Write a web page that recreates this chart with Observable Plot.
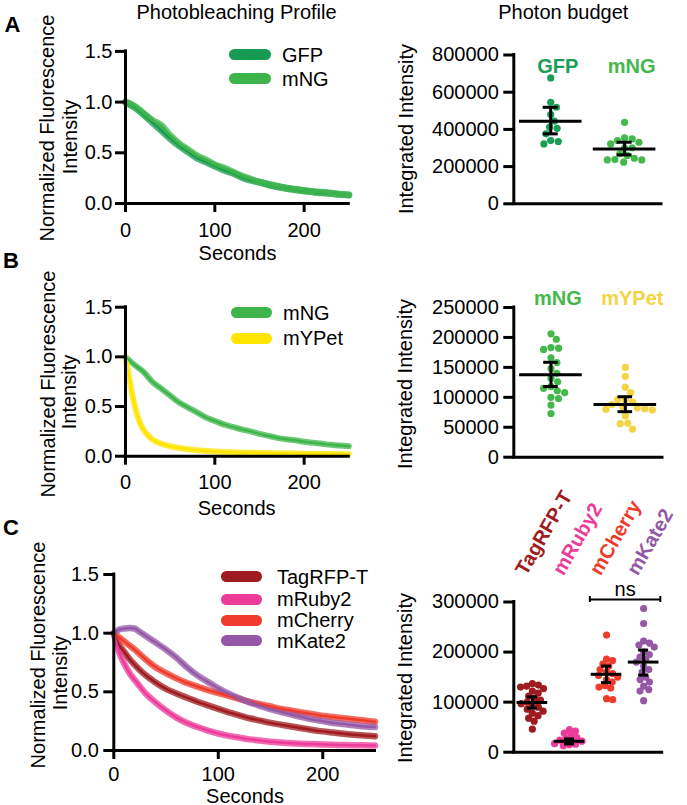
<!DOCTYPE html>
<html><head><meta charset="utf-8">
<script src="https://cdn.jsdelivr.net/npm/d3@7"></script>
<script src="https://cdn.jsdelivr.net/npm/@observablehq/plot@0.6"></script>
<style>
body{margin:0;background:#fff;}
#fig{position:relative;width:687px;height:805px;overflow:hidden;background:#fff;font-family:'Liberation Sans',Arial,Helvetica,sans-serif;color:#000;}
</style></head><body><div id="fig"></div>
<script>
// ---------------- data ----------------
const timeAB = [0,10,20,30,40,50,60,70,80,90,100,110,120,130,140,150,160,170,180,190,200,210,220,230,240,250];
const gfpCurveA = [1.00,0.95,0.88,0.80,0.72,0.64,0.57,0.51,0.45,0.41,0.37,0.33,0.30,0.26,0.23,0.21,0.185,0.165,0.15,0.135,0.125,0.115,0.105,0.10,0.09,0.085];
const mngCurveA = [1.00,0.96,0.89,0.82,0.77,0.67,0.59,0.53,0.47,0.43,0.38,0.35,0.31,0.27,0.24,0.21,0.19,0.17,0.15,0.14,0.125,0.115,0.11,0.10,0.09,0.085];
const mngCurveB = [1.00,0.92,0.85,0.75,0.68,0.61,0.54,0.49,0.44,0.39,0.355,0.32,0.295,0.27,0.25,0.225,0.205,0.185,0.17,0.16,0.145,0.135,0.125,0.115,0.108,0.10];
const timeYPet = [0,2,4,6,8,10,12,14,16,18,20,25,30,35,40,50,60,70,80,100,120,150,200,250];
const ypetCurveB = [1.0,0.9,0.8,0.7,0.6,0.52,0.45,0.39,0.34,0.30,0.27,0.21,0.17,0.145,0.125,0.10,0.082,0.07,0.06,0.048,0.04,0.033,0.025,0.02];
const timeC = [0,5,10,15,20,25,30,40,50,60,70,80,90,100,110,120,130,140,150,160,170,180,190,200,210,220,230,240,250];
const tagCurveC = [1.0,0.9,0.84,0.78,0.73,0.685,0.645,0.58,0.525,0.485,0.45,0.415,0.385,0.355,0.325,0.3,0.275,0.255,0.235,0.22,0.205,0.19,0.175,0.163,0.153,0.143,0.135,0.128,0.122];
const rubyCurveC = [1.0,0.84,0.74,0.66,0.60,0.545,0.49,0.41,0.34,0.28,0.235,0.2,0.17,0.145,0.125,0.11,0.095,0.085,0.075,0.068,0.062,0.058,0.055,0.052,0.049,0.047,0.045,0.044,0.043];
const cherryCurveC = [1.0,0.965,0.93,0.895,0.86,0.82,0.78,0.71,0.66,0.615,0.575,0.545,0.515,0.49,0.465,0.44,0.415,0.395,0.375,0.355,0.34,0.325,0.31,0.295,0.285,0.275,0.265,0.255,0.245];
const kateCurveC = [1.0,1.03,1.04,1.045,1.04,1.01,0.98,0.92,0.86,0.79,0.71,0.64,0.585,0.53,0.485,0.445,0.41,0.38,0.352,0.328,0.305,0.285,0.265,0.25,0.235,0.225,0.215,0.205,0.2];

const groupsA = ["GFP","mNG"];
const gfpDotsA = [677000,546000,519000,480000,444000,412000,406000,376000,340000,335000,322000];
const mngDotsA = [438000,354000,349000,340000,331000,322000,301000,301000,269000,260000,245000,238000,236000,236000,224000];
const meanA = [444000,295000], loA = [376000,263000], hiA = [519000,331000];

const groupsB = ["mNG","mYPet"];
const mngDotsB = [206000,197000,183000,182000,180000,166000,158000,148000,140000,132000,126000,118000,115000,111000,108000,100000,98000,87000,73000];
const ypetDotsB = [150000,135000,117000,108000,96000,96000,92000,88000,84000,82000,81000,80000,79000,69000,57000,56000,47000];
const meanB = [137700,88000], loB = [118000,76000], hiB = [158500,101000];

const groupsC = ["TagRFP-T","mRuby2","mCherry","mKate2"];
const tagDotsC = [137000,134000,132000,130000,127000,122000,118000,112000,108000,104000,100000,97000,93000,90000,86000,82000,78000,73000,68000,62000,46000];
const rubyDotsC = [45000,42000,38000,33000,29000,26000,24000,22000,21000,20000,19000,18000,17000,16000,15000,13000];
const cherryDotsC = [234000,186000,183000,176000,172000,165000,160000,157000,153000,150000,145000,140000,133000,130000,128000,107000,105000];
const kateDotsC = [287000,257000,222000,218000,214000,210000,200000,195000,190000,185000,180000,172000,165000,160000,150000,145000,140000,132000,125000,122000,103000];
const meanC = [99300,21800,155600,180000], loC = [88000,16500,139000,154000], hiC = [110600,26500,172000,204000];
const bracketC = {from: "mCherry", to: "mKate2", value: 305000, label: "ns"};

const ticksLine = [0,0.5,1.0,1.5];
const ticksSec = [0,100,200];
const ticksA = [0,200000,400000,600000,800000];
const ticksB = [0,50000,100000,150000,200000,250000];
const ticksC = [0,100000,200000,300000];

// ---------------- styles ----------------
const FONT = "'Liberation Sans', Arial, Helvetica, sans-serif";
const LINE_COL = {"GFP":"#179a52","mNG":"#3db54a","mYPet":"#ffe400","TagRFP-T":"#9e1b20","mRuby2":"#ec3c9a","mCherry":"#ef3b2c","mKate2":"#9558a7"};
const DOT_COL = {"GFP":"#1a9e55","mNG":"#45b84c","mYPet":"#f4d344","TagRFP-T":"#9e1b20","mRuby2":"#ec3c9a","mCherry":"#ef3b2c","mKate2":"#9558a7"};
const STYLE = {background:"transparent", overflow:"visible", fontFamily: FONT, fontSize:"20px", color:"#000"};

const fig = document.getElementById("fig");
function place(node, left, top) {
  const w = document.createElement("div");
  w.style.cssText = `position:absolute;left:${left}px;top:${top}px;`;
  w.appendChild(node); fig.appendChild(w);
}
function text(str, x, y, o = {}) {
  const d = document.createElement("div");
  d.textContent = str;
  const tx = o.align === "start" ? "0" : "-50%";
  d.style.cssText = `position:absolute;left:${x}px;top:${y}px;white-space:nowrap;line-height:1;font-size:${o.size ?? 20}px;font-weight:${o.weight ?? 400};color:${o.color ?? "#000"};transform:translate(${tx},-50%)${o.rot ? ` rotate(${o.rot}deg)` : ""};`;
  fig.appendChild(d);
}
function legend(items, x1, x2, tx, ys) {
  items.forEach((n, i) => {
    const s = document.createElement("div");
    s.style.cssText = `position:absolute;left:${x1}px;top:${ys[i]-5.5}px;width:${x2-x1}px;height:11px;border-radius:5.5px;background:${LINE_COL[n]};`;
    fig.appendChild(s);
    text(n, tx, ys[i], {align:"start"});
  });
}

function linePlot(cfg) {
  const rows = [];
  cfg.series.forEach(s => s.t.forEach((t, k) => rows.push({name: s.name, t, v: s.v[k]})));
  const names = cfg.series.map(s => s.name);
  return Plot.plot({
    width: cfg.width, height: cfg.height,
    marginLeft: cfg.ml, marginRight: cfg.mr, marginTop: cfg.mt, marginBottom: cfg.mb,
    style: STYLE,
    x: {domain: [0, 250]},
    y: {domain: [0, 1.5]},
    color: {domain: names, range: names.map(n => LINE_COL[n])},
    marks: [
      Plot.line(rows, {x: "t", y: "v", z: "name", stroke: "name", strokeWidth: cfg.sw, strokeOpacity: 0.75, strokeLinejoin: "round", curve: "monotone-x"}),
      Plot.line(rows, {x: "t", y: "v", z: "name", stroke: "name", strokeWidth: 2.5, curve: "monotone-x"}),
      Plot.ruleY([0], {strokeWidth: 3, strokeLinecap: "square"}),
      Plot.ruleX([0], {strokeWidth: 3, strokeLinecap: "square"}),
      Plot.axisY({ticks: ticksLine, tickFormat: d3.format(".1f"), tickSize: 10, tickPadding: cfg.ypad ?? 3, fontSize: 20, strokeWidth: 3, label: null}),
      Plot.axisX({ticks: ticksSec, tickFormat: d3.format("d"), tickSize: 9, tickPadding: cfg.xpad ?? 10, fontSize: 20, strokeWidth: 3, label: null})
    ]
  });
}

function swarm(ys, diam, maxOff) {
  const order = d3.range(ys.length).sort((a, b) => ys[a] - ys[b]);
  const placed = [], xs = new Array(ys.length);
  for (const i of order) {
    const y = ys[i];
    const cands = [0];
    for (const p of placed) {
      const dy = Math.abs(p.y - y);
      if (dy < diam) { const dx = Math.sqrt(diam * diam - dy * dy); cands.push(p.x + dx, p.x - dx); }
    }
    cands.sort((a, b) => Math.abs(a) - Math.abs(b) || b - a);
    let best = null;
    for (const c of cands) {
      if (Math.abs(c) > maxOff) continue;
      if (placed.every(p => (p.x - c) ** 2 + (p.y - y) ** 2 >= diam * diam - 1e-6)) { best = c; break; }
    }
    if (best === null) best = cands.find(c => Math.abs(c) <= maxOff) ?? 0;
    placed.push({x: best, y}); xs[i] = best;
  }
  return xs;
}

function dotPlot(cfg) {
  const n = cfg.groups.length;
  const yS = d3.scaleLinear([0, cfg.yMax], [cfg.height - cfg.mb, cfg.mt]);
  const ppu = (cfg.width - cfg.ml - cfg.mr) / n;
  const pts = [];
  cfg.groups.forEach((g, i) => {
    const offs = swarm(cfg.values[i].map(v => yS(v)), cfg.diam, cfg.maxOff);
    cfg.values[i].forEach((v, j) => pts.push({g, v, x: i + offs[j] / ppu}));
  });
  const st = cfg.groups.map((g, i) => ({g, i, mean: cfg.mean[i], lo: cfg.lo[i], hi: cfg.hi[i]}));
  const hw = cfg.meanHalf / ppu, cw = cfg.capHalf / ppu;
  const marks = [
    Plot.dot(pts, {x: "x", y: "v", r: cfg.r, fill: "g"}),
    Plot.ruleY(st, {y: "mean", x1: d => d.i - hw, x2: d => d.i + hw, strokeWidth: 3}),
    Plot.ruleX(st, {x: "i", y1: "lo", y2: "hi", strokeWidth: 3}),
    Plot.ruleY(st, {y: "lo", x1: d => d.i - cw, x2: d => d.i + cw, strokeWidth: 3}),
    Plot.ruleY(st, {y: "hi", x1: d => d.i - cw, x2: d => d.i + cw, strokeWidth: 3}),
    Plot.ruleY([0], {strokeWidth: 3, strokeLinecap: "square"}),
    Plot.ruleX([-0.5], {strokeWidth: 3, strokeLinecap: "square"}),
    Plot.axisY({ticks: cfg.ticks, tickFormat: d3.format("d"), tickSize: 10, tickPadding: 5, fontSize: 20, strokeWidth: 3, label: null})
  ];
  if (cfg.rotLabels) {
    marks.push(Plot.text(st, {x: "i", text: "g", frameAnchor: "top", rotate: -60, textAnchor: "start", lineAnchor: "bottom", dx: -6, dy: cfg.labelDy, fill: "g", fontWeight: "bold", fontSize: 20}));
  } else {
    marks.push(Plot.text(st, {x: "i", text: "g", frameAnchor: "top", dx: 7, dy: cfg.labelDy, fill: "g", fontWeight: "bold", fontSize: 20}));
  }
  if (cfg.bracket) {
    const b = cfg.bracket;
    const i1 = cfg.groups.indexOf(b.from), i2 = cfg.groups.indexOf(b.to);
    const br = [{x1: i1 - 0.45, x2: i2 + 0.45, y: b.value, label: b.label}];
    marks.push(
      Plot.ruleY(br, {y: "y", x1: "x1", x2: "x2", strokeWidth: 2}),
      Plot.ruleX(br, {x: "x1", y1: d => d.y - 6000, y2: d => d.y + 6000, strokeWidth: 2}),
      Plot.ruleX(br, {x: "x2", y1: d => d.y - 6000, y2: d => d.y + 6000, strokeWidth: 2}),
      Plot.text(br, {x: d => (d.x1 + d.x2) / 2, y: "y", text: "label", dy: -10, fontSize: 20})
    );
  }
  return Plot.plot({
    width: cfg.width, height: cfg.height,
    marginLeft: cfg.ml, marginRight: cfg.mr, marginTop: cfg.mt, marginBottom: cfg.mb,
    style: STYLE,
    x: {domain: [-0.5, n - 0.5], axis: null},
    y: {domain: [0, cfg.yMax]},
    color: {domain: cfg.groups, range: cfg.groups.map(g => DOT_COL[g])},
    marks
  });
}

// ---------------- panel A ----------------
place(linePlot({width: 360, height: 270, ml: 125, mr: 11.7, mt: 50.9, mb: 67,
  sw: 7, series: [{name: "GFP", t: timeAB, v: gfpCurveA}, {name: "mNG", t: timeAB, v: mngCurveA}]}), 0, 0);
place(dotPlot({width: 337, height: 230, ml: 163.3, mr: 26, mt: 54.5, mb: 26.7, yMax: 800000, ticks: ticksA,
  groups: groupsA, values: [gfpDotsA, mngDotsA], mean: meanA, lo: loA, hi: hiA,
  r: 3.6, diam: 7.6, maxOff: 30, meanHalf: 31.3, capHalf: 7.5, labelDy: 3.8}), 350, 0);

// ---------------- panel B ----------------
place(linePlot({width: 360, height: 270, ml: 125, mr: 11.7, mt: 50.7, mb: 70.3,
  sw: 6, series: [{name: "mNG", t: timeAB, v: mngCurveB}, {name: "mYPet", t: timeYPet, v: ypetCurveB}]}), 0, 256);
place(dotPlot({width: 337, height: 230, ml: 163.3, mr: 25, mt: 51, mb: 29.3, yMax: 250000, ticks: ticksB,
  groups: groupsB, values: [mngDotsB, ypetDotsB], mean: meanB, lo: loB, hi: hiB,
  r: 3.6, diam: 7.6, maxOff: 30, meanHalf: 31.3, capHalf: 7.3, labelDy: -16.3}), 350, 256);

// ---------------- panel C ----------------
place(linePlot({width: 380, height: 285, ml: 113.3, mr: 5.5, mt: 54, mb: 55, ypad: 5, xpad: 7,
  sw: 6.5, series: [
    {name: "TagRFP-T", t: timeC, v: tagCurveC}, {name: "mRuby2", t: timeC, v: rubyCurveC},
    {name: "mCherry", t: timeC, v: cherryCurveC}, {name: "mKate2", t: timeC, v: kateCurveC}]}), 0, 520);
place(dotPlot({width: 337, height: 285, ml: 163.3, mr: 25.3, mt: 81.5, mb: 53.3, yMax: 300000, ticks: ticksC,
  groups: groupsC, values: [tagDotsC, rubyDotsC, cherryDotsC, kateDotsC], mean: meanC, lo: loC, hi: hiC,
  r: 3.6, diam: 6.2, maxOff: 15, meanHalf: 15.3, capHalf: 5, labelDy: -25.5, rotLabels: true, bracket: bracketC}), 350, 520);

// ---------------- text ----------------
text("Photobleaching Profile", 236.5, 11.5);
text("Photon budget", 563.3, 11.5);
text("A", 12.5, 25, {weight: 700, size: 22});
text("B", 11, 261, {weight: 700, size: 22});
text("C", 11, 528, {weight: 700, size: 22});

text("Normalized Fluorescence", 47, 128, {rot: -90});
text("Intensity", 70, 137, {rot: -90});
text("Normalized Fluorescence", 47.5, 384, {rot: -90});
text("Intensity", 69, 391.7, {rot: -90});
text("Normalized Fluorescence", 38, 655, {rot: -90});
text("Intensity", 60, 673, {rot: -90});

text("Integrated Intensity", 406, 129, {rot: -90});
text("Integrated Intensity", 405, 384, {rot: -90});
text("Integrated Intensity", 405, 678, {rot: -90});

text("Seconds", 237.5, 252.5);
text("Seconds", 236.7, 507.5);
text("Seconds", 245, 795.5);

legend(["GFP", "mNG"], 229, 271, 282, [54.7, 78.7]);
legend(["mNG", "mYPet"], 231, 272, 283, [312.7, 338.3]);
legend(["TagRFP-T", "mRuby2", "mCherry", "mKate2"], 220.5, 262, 277, [576.7, 599.3, 620, 640.7]);
</script></body></html>
